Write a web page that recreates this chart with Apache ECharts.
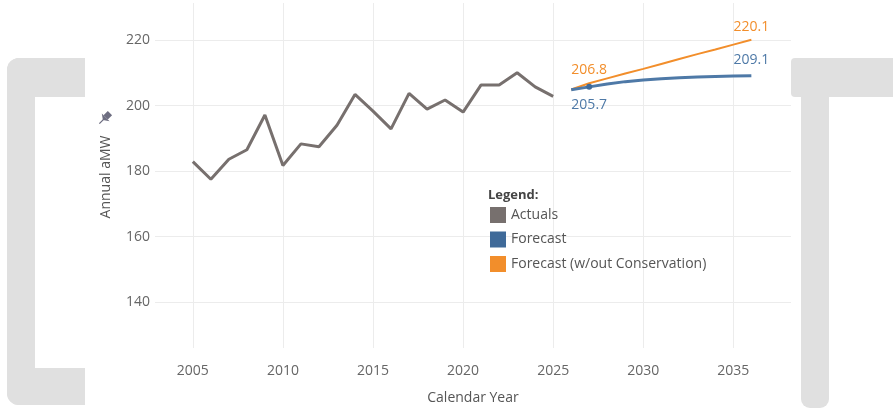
<!DOCTYPE html>
<html>
<head>
<meta charset="utf-8">
<script src="https://cdn.jsdelivr.net/npm/echarts@6/dist/echarts.min.js"></script>
<style>
  html, body { margin: 0; padding: 0; background: #ffffff; }
  #chart { width: 893px; height: 411px; }
</style>
</head>
<body>
<div id="chart"></div>
<script>
// Annual aMW: historical actuals and two forecast scenarios
const actualYears = [2005, 2006, 2007, 2008, 2009, 2010, 2011, 2012, 2013, 2014, 2015,
                     2016, 2017, 2018, 2019, 2020, 2021, 2022, 2023, 2024, 2025];
const actualValues = [182.9, 177.5, 183.6, 186.5, 197.1, 181.7, 188.3, 187.4, 194.0, 203.4, 198.3,
                      192.9, 203.7, 198.9, 201.7, 198.0, 206.3, 206.3, 210.0, 205.7, 202.8];

const forecastYears = [2026, 2027, 2028, 2029, 2030, 2031, 2032, 2033, 2034, 2035, 2036];
const forecastValues = [204.8, 205.7, 206.6, 207.3, 207.8, 208.2, 208.5, 208.7, 208.9, 209.0, 209.1];
const noConservationValues = [204.9, 206.8, 208.3, 209.8, 211.2, 212.7, 214.2, 215.7, 217.1, 218.6, 220.1];

const yTicks = [140, 160, 180, 200, 220];
const xTicks = [2005, 2010, 2015, 2020, 2025, 2030, 2035];

const seriesNames = ['Actuals', 'Forecast', 'Forecast (w/out Conservation)'];
const labelledYears = [2027, 2036];

const FONT = '"Open Sans", "Noto Sans", sans-serif';
const GRAY = '#77706e', BLUE = '#4e79a7', ORANGE = '#f28e2b';
const BRACKET = '#e0e0e0';

function pairs(xs, ys) { return xs.map((x, i) => [x, ys[i]]); }

// Forecast points: only the labelled years carry a value label
function forecastData(values, color, positions, distances, markerYear) {
  return forecastYears.map((yr, i) => {
    const item = { value: [yr, values[i]] };
    const k = labelledYears.indexOf(yr);
    if (k >= 0) {
      item.label = {
        show: true, position: positions[k], distance: distances[k],
        color: color, fontSize: 14, fontFamily: FONT, fontWeight: 500,
        formatter: (p) => p.value[1].toFixed(1)
      };
    }
    if (yr === markerYear) item.symbolSize = 6;
    return item;
  });
}

const chart = echarts.init(document.getElementById('chart'), null, { renderer: 'canvas' });

chart.setOption({
  backgroundColor: '#ffffff',
  animation: false,
  grid: { left: 155, right: 102, top: 3, bottom: 63 },
  xAxis: {
    type: 'value', min: 2002.9, max: 2038.2,
    name: 'Calendar Year', nameLocation: 'middle', nameGap: 43,
    nameTextStyle: { color: '#555', fontSize: 14, fontFamily: FONT },
    axisLine: { show: false },
    axisTick: { show: false, customValues: xTicks },
    axisLabel: {
      customValues: xTicks, color: '#666', fontSize: 14, fontFamily: FONT, margin: 16,
      formatter: (v) => String(v)
    },
    splitLine: { show: true, lineStyle: { color: '#ececec', width: 1 } }
  },
  yAxis: {
    type: 'value', min: 126.0, max: 231.3,
    axisLine: { show: false },
    axisTick: { show: false, customValues: yTicks },
    axisLabel: { customValues: yTicks, color: '#666', fontSize: 14, fontFamily: FONT, margin: 5 },
    splitLine: { show: true, lineStyle: { color: '#ececec', width: 1 } }
  },
  legend: {
    data: seriesNames,
    orient: 'vertical', left: 490, top: 207, padding: 0,
    icon: 'rect', itemWidth: 16, itemHeight: 16, itemGap: 8.5,
    textStyle: { color: '#555', fontSize: 14, fontFamily: FONT },
    selectedMode: false
  },
  series: [
    {
      name: seriesNames[0], type: 'line', data: pairs(actualYears, actualValues),
      color: GRAY, symbol: 'none', lineStyle: { width: 3, color: GRAY }, z: 3
    },
    {
      name: seriesNames[2], type: 'line',
      data: forecastData(noConservationValues, ORANGE, ['top', 'top'], [6, 6], null),
      color: ORANGE, symbol: 'circle', symbolSize: 0, showSymbol: true,
      lineStyle: { width: 2, color: ORANGE }, z: 3
    },
    {
      name: seriesNames[1], type: 'line',
      data: forecastData(forecastValues, BLUE, ['bottom', 'top'], [8, 9], 2027),
      color: BLUE, symbol: 'circle', symbolSize: 0, showSymbol: true,
      itemStyle: { color: '#3f6a99' },
      lineStyle: { width: 3, color: BLUE }, z: 4
    }
  ],
  graphic: [
    // Y axis title with pin icon
    {
      type: 'text', x: 106, y: 177, rotation: Math.PI / 2,
      style: { text: 'Annual aMW', fill: '#555', font: '14px ' + FONT, align: 'center', verticalAlign: 'middle' }
    },
    {
      type: 'group', x: 105, y: 118, rotation: -Math.PI / 4,
      children: [
        { type: 'rect', shape: { x: -3, y: -7, width: 6, height: 6 }, style: { fill: '#6d6d80' } },
        { type: 'polygon', shape: { points: [[-5.5, -1], [5.5, -1], [0, 3]] }, style: { fill: '#6d6d80' } },
        { type: 'line', shape: { x1: 0, y1: 2, x2: 0, y2: 8 }, style: { stroke: '#6d6d80', lineWidth: 1.3 } }
      ]
    },
    // Legend title
    {
      type: 'text', x: 488, y: 195,
      style: { text: 'Legend:', fill: '#444', font: 'bold 13px ' + FONT, verticalAlign: 'middle' }
    },
    // Left bracket
    { type: 'rect', z: 10, shape: { x: 7, y: 58, width: 78, height: 39, r: [12, 0, 0, 0] }, style: { fill: BRACKET } },
    { type: 'rect', z: 10, shape: { x: 7, y: 58, width: 28, height: 347, r: [12, 0, 0, 12] }, style: { fill: BRACKET } },
    { type: 'rect', z: 10, shape: { x: 7, y: 368, width: 78, height: 37, r: [0, 0, 0, 12] }, style: { fill: BRACKET } },
    // Right T shape
    { type: 'rect', z: 10, shape: { x: 791, y: 58, width: 102, height: 39, r: [4, 0, 0, 4] }, style: { fill: BRACKET } },
    { type: 'rect', z: 10, shape: { x: 801, y: 96, width: 28, height: 312, r: [0, 0, 9, 9] }, style: { fill: BRACKET } }
  ]
});
</script>
</body>
</html>
